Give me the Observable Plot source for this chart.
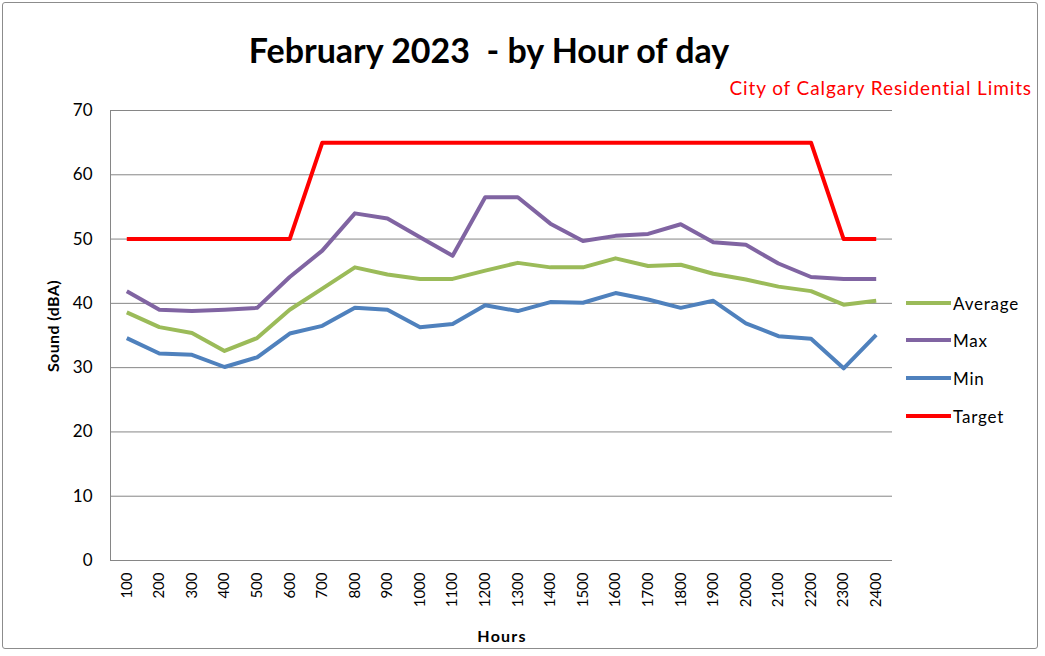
<!DOCTYPE html>
<html>
<head>
<meta charset="utf-8">
<script src="https://cdn.jsdelivr.net/npm/d3@7"></script>
<script src="https://cdn.jsdelivr.net/npm/@observablehq/plot@0.6"></script>
<style>
  html, body { margin: 0; padding: 0; background: #fff; }
  #wrap { position: relative; width: 1045px; height: 656px; font-family: Lato, "Open Sans", sans-serif; }
  #border { position: absolute; left: 2px; top: 2px; width: 1036px; height: 647px; border: 1px solid #8c8c8c; border-radius: 3px; box-sizing: border-box; }
  .abs { position: absolute; white-space: nowrap; line-height: 1; }
  #title { left: 489px; top: 33px; transform: translateX(-50%); font-size: 34px; font-weight: bold; color: #000; }
  #subtitle { right: 13px; top: 78px; font-size: 19px; letter-spacing: 0.9px; color: #ff0000; }
  #ylabel { left: 53px; top: 326px; transform: translate(-50%, -50%) rotate(-90deg); font-size: 16px; letter-spacing: 0.4px; font-weight: bold; }
  #xlabel { left: 502px; top: 636px; transform: translate(-50%, -50%); font-size: 16px; letter-spacing: 1.2px; font-weight: bold; }
  .leg { position: absolute; left: 906px; height: 20px; display: flex; align-items: center; font-size: 17px; letter-spacing: 0.8px; }
  .leg span.sw { display: inline-block; width: 45px; height: 4px; margin-right: 2px; }
  svg { position: absolute; left: 0; top: 0; }
</style>
</head>
<body>
<div id="wrap">
  <div id="border"></div>
  <div id="chart"></div>
  <div id="title" class="abs">February 2023&nbsp;&nbsp;- by Hour of day</div>
  <div id="subtitle" class="abs">City of Calgary Residential Limits</div>
  <div id="ylabel" class="abs">Sound (dBA)</div>
  <div id="xlabel" class="abs">Hours</div>
  <div id="legend"></div>
</div>
<script>
const hours = ["100","200","300","400","500","600","700","800","900","1000","1100","1200",
               "1300","1400","1500","1600","1700","1800","1900","2000","2100","2200","2300","2400"];
const average = [38.6,36.3,35.4,32.6,34.6,39.0,42.3,45.6,44.5,43.8,43.8,45.1,
                 46.3,45.6,45.6,47.0,45.8,46.0,44.6,43.7,42.6,41.9,39.8,40.4];
const maxVals = [41.9,39.0,38.8,39.0,39.3,44.1,48.2,54.0,53.2,50.3,47.4,56.5,
                 56.5,52.4,49.7,50.5,50.8,52.3,49.5,49.1,46.2,44.1,43.8,43.8];
const minVals = [34.6,32.2,32.0,30.1,31.6,35.3,36.5,39.3,39.0,36.3,36.8,39.7,
                 38.8,40.2,40.1,41.6,40.6,39.3,40.4,36.9,34.9,34.5,29.9,35.1];
const target = [50,50,50,50,50,50,65,65,65,65,65,65,
                65,65,65,65,65,65,65,65,65,65,50,50];
const yTicks = [0,10,20,30,40,50,60,70];
const seriesNames = ["Average","Max","Min","Target"];
const seriesColors = ["#9bbb59","#8064a2","#4f81bd","#ff0000"];
const seriesValues = [average, maxVals, minVals, target];

const rows = [];
seriesNames.forEach((name, i) => {
  hours.forEach((h, j) => rows.push({series: name, hour: h, value: seriesValues[i][j]}));
});

const chart = Plot.plot({
  width: 1045,
  height: 656,
  marginLeft: 110,
  marginRight: 153,
  marginTop: 110,
  marginBottom: 96,
  style: { fontFamily: "Lato, 'Open Sans', sans-serif", fontSize: "15px", color: "#000", background: "transparent", overflow: "visible" },
  x: { type: "point", domain: hours, padding: 0.5, round: false, label: null },
  y: { domain: [0, 70], label: null },
  color: { domain: seriesNames, range: seriesColors },
  marks: [
    Plot.ruleY(yTicks, { stroke: "#868686", strokeWidth: 1 }),
    Plot.frame({ anchor: "left", stroke: "#868686", strokeWidth: 1 }),
    Plot.axisY({ ticks: yTicks, tickSize: 0, tickPadding: 18, fontSize: 17, label: null }),
    Plot.axisX({ tickSize: 0, tickRotate: -90, tickPadding: 12, fontSize: 15, label: null, letterSpacing: "1.3px" }),
    Plot.line(rows, { x: "hour", y: "value", z: "series", stroke: "series", strokeWidth: 4, strokeLinejoin: "round", strokeLinecap: "butt" })
  ]
});
document.getElementById("chart").appendChild(chart);

const legendTops = [293, 330, 368, 406];
const legend = document.getElementById("legend");
seriesNames.forEach((name, i) => {
  const d = document.createElement("div");
  d.className = "leg";
  d.style.top = legendTops[i] + "px";
  d.innerHTML = `<span class="sw" style="background:${seriesColors[i]}"></span><span>${name}</span>`;
  legend.appendChild(d);
});
</script>
</body>
</html>
